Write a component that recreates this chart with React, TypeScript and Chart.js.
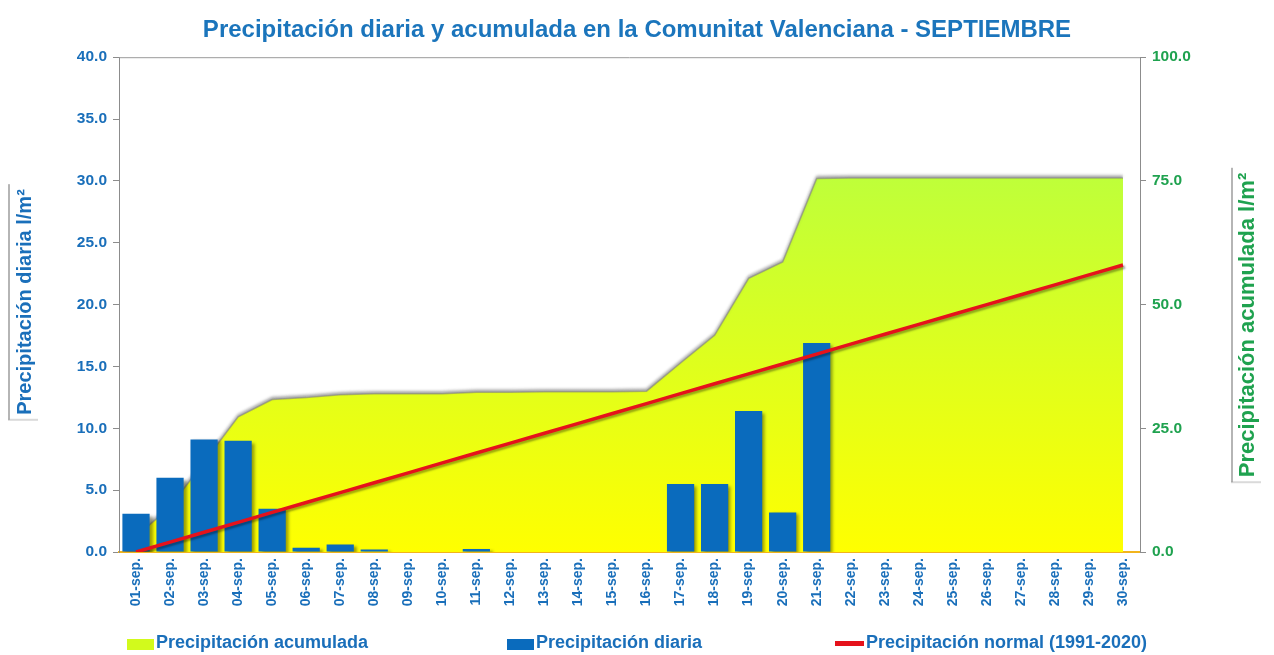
import React, { useEffect, useRef } from 'react';
import { Chart, registerables } from 'chart.js';

const FONT = '"Liberation Sans", Arial, sans-serif';

const TITLE = 'Precipitación diaria y acumulada en la Comunitat Valenciana - SEPTIEMBRE';
const LEFT_TITLE = 'Precipitación diaria l/m²';
const RIGHT_TITLE = 'Precipitación acumulada l/m²';

const days = [
  '01-sep.', '02-sep.', '03-sep.', '04-sep.', '05-sep.', '06-sep.', '07-sep.', '08-sep.', '09-sep.', '10-sep.',
  '11-sep.', '12-sep.', '13-sep.', '14-sep.', '15-sep.', '16-sep.', '17-sep.', '18-sep.', '19-sep.', '20-sep.',
  '21-sep.', '22-sep.', '23-sep.', '24-sep.', '25-sep.', '26-sep.', '27-sep.', '28-sep.', '29-sep.', '30-sep.',
];

const dailyPrecip = [
  3.1, 6.0, 9.1, 9.0, 3.5, 0.35, 0.6, 0.2, 0, 0,
  0.25, 0, 0, 0, 0, 0, 5.5, 5.5, 11.4, 3.2,
  16.9, 0, 0, 0, 0, 0, 0, 0, 0, 0,
];

const accumulatedPrecip = [
  3.1, 9.1, 18.2, 27.3, 30.8, 31.2, 31.8, 32.0, 32.0, 32.0,
  32.3, 32.3, 32.4, 32.4, 32.4, 32.5, 38.2, 43.8, 55.3, 58.6,
  75.5, 75.6, 75.6, 75.6, 75.6, 75.6, 75.6, 75.6, 75.6, 75.6,
];

const normalPrecip = [
  0.0, 2.0, 4.0, 6.0, 8.0, 10.0, 12.0, 14.0, 16.0, 18.0,
  20.0, 22.0, 24.0, 26.0, 28.0, 30.0, 32.0, 34.0, 36.0, 38.0,
  40.0, 42.0, 44.0, 46.0, 48.0, 50.0, 52.0, 54.0, 56.0, 58.0,
];

const leftTicks = [0, 5, 10, 15, 20, 25, 30, 35, 40];
const rightTicks = [0, 25, 50, 75, 100];

const LABEL_ACUM = 'Precipitación acumulada';
const LABEL_DIARIA = 'Precipitación diaria';
const LABEL_NORMAL = 'Precipitación normal (1991-2020)';

const BLUE_TEXT = '#1a6fba';
const GREEN_TEXT = '#1fa24f';
const BAR_BLUE = '#0a6bbd';
const RED = '#e5121b';

const shadows: Record<string, { color: string; x: number; y: number; blur: number }> = {
  [LABEL_ACUM]: { color: 'rgba(90,90,90,0.55)', x: 0, y: -2, blur: 3 },
  [LABEL_DIARIA]: { color: 'rgba(40,40,0,0.45)', x: 3, y: 2, blur: 3 },
  [LABEL_NORMAL]: { color: 'rgba(0,0,0,0.35)', x: 2, y: 2, blur: 2 },
};

const shadowPlugin = {
  id: 'aemetShadow',
  beforeDatasetDraw(chart: any, args: any) {
    const ctx = chart.ctx;
    ctx.save();
    const ds = chart.data.datasets[args.index];
    const s = shadows[ds.label];
    if (s) {
      ctx.shadowColor = s.color;
      ctx.shadowOffsetX = s.x;
      ctx.shadowOffsetY = s.y;
      ctx.shadowBlur = s.blur;
    }
  },
  afterDatasetDraw(chart: any) {
    chart.ctx.restore();
  },
};

function drawVTitle(ctx: CanvasRenderingContext2D, text: string, cx: number, cy: number, color: string, size: number) {
  ctx.save();
  ctx.font = `bold ${size}px ${FONT}`;
  const w = ctx.measureText(text).width;
  // frame shadow (left and bottom)
  ctx.fillStyle = 'rgba(120,120,120,0.55)';
  ctx.fillRect(cx - 17, cy - w / 2 - 5, 2, w + 10);
  ctx.fillStyle = 'rgba(150,150,150,0.35)';
  ctx.fillRect(cx - 17, cy + w / 2 + 4, 30, 2);
  ctx.translate(cx, cy);
  ctx.rotate(-Math.PI / 2);
  ctx.fillStyle = color;
  ctx.textAlign = 'center';
  ctx.textBaseline = 'middle';
  ctx.fillText(text, 0, 0);
  ctx.restore();
}

const decorPlugin = {
  id: 'aemetDecor',
  afterDraw(chart: any) {
    const ctx: CanvasRenderingContext2D = chart.ctx;
    const area = chart.chartArea;
    ctx.save();
    // top frame line
    ctx.strokeStyle = '#9a9a9a';
    ctx.lineWidth = 1;
    ctx.beginPath();
    ctx.moveTo(area.left, area.top + 0.5);
    ctx.lineTo(area.right, area.top + 0.5);
    ctx.stroke();
    ctx.restore();

    drawVTitle(ctx, LEFT_TITLE, 25, 302, BLUE_TEXT, 20);
    drawVTitle(ctx, RIGHT_TITLE, 1248, 325, GREEN_TEXT, 22);

    // legend
    ctx.save();
    ctx.font = `bold 18px ${FONT}`;
    ctx.textBaseline = 'alphabetic';
    ctx.textAlign = 'left';
    const baseY = 648;
    // item 1: accumulated
    ctx.fillStyle = '#d2fa1c';
    ctx.fillRect(127, 639, 27, 11);
    ctx.fillStyle = BLUE_TEXT;
    ctx.fillText(LABEL_ACUM, 156, baseY);
    // item 2: daily
    ctx.fillStyle = BAR_BLUE;
    ctx.fillRect(507, 639, 27, 11);
    ctx.fillStyle = BLUE_TEXT;
    ctx.fillText(LABEL_DIARIA, 536, baseY);
    // item 3: normal
    ctx.fillStyle = RED;
    ctx.fillRect(835, 641, 29, 5);
    ctx.fillStyle = BLUE_TEXT;
    ctx.fillText(LABEL_NORMAL, 866, baseY);
    ctx.restore();
  },
};

Chart.register(shadowPlugin, ...registerables);

export default function App() {
  const ref = useRef<HTMLCanvasElement>(null);

  useEffect(() => {
    document.body.style.margin = '0';
    const canvas = ref.current;
    if (!canvas) return;

    const chart = new Chart(canvas, {
      type: 'bar',
      data: {
        labels: days,
        datasets: [
          {
            type: 'line',
            label: LABEL_NORMAL,
            data: normalPrecip,
            yAxisID: 'y1',
            borderColor: RED,
            borderWidth: 3.5,
            pointRadius: 0,
            tension: 0,
            fill: false,
            order: 1,
          } as any,
          {
            type: 'bar',
            label: LABEL_DIARIA,
            data: dailyPrecip,
            yAxisID: 'y',
            backgroundColor: BAR_BLUE,
            borderWidth: 0,
            barPercentage: 0.8,
            categoryPercentage: 1.0,
            order: 2,
          },
          {
            type: 'line',
            label: LABEL_ACUM,
            data: accumulatedPrecip,
            yAxisID: 'y1',
            borderColor: 'rgba(130,130,130,0.55)',
            borderWidth: 1.5,
            pointRadius: 0,
            tension: 0,
            fill: 'origin',
            backgroundColor: (c: any) => {
              const ch = c.chart;
              const a = ch.chartArea;
              if (!a) return '#e0ff20';
              const g = ch.ctx.createLinearGradient(0, a.top, 0, a.bottom);
              g.addColorStop(0, '#aaff4c');
              g.addColorStop(1, '#ffff00');
              return g;
            },
            order: 3,
          } as any,
        ],
      },
      options: {
        animation: false,
        responsive: true,
        maintainAspectRatio: false,
        layout: { padding: 0 },
        plugins: {
          legend: { display: false },
          tooltip: { enabled: false },
          title: {
            display: true,
            text: TITLE,
            color: '#1b75bc',
            font: { family: FONT, size: 24, weight: 'bold' },
            padding: { top: 15.6, bottom: 12.8 },
          },
        },
        scales: {
          x: {
            type: 'category',
            offset: true,
            grid: { display: false, drawTicks: false },
            border: { display: true, color: '#f2b41c', width: 2 },
            ticks: {
              color: BLUE_TEXT,
              font: { family: FONT, size: 14, weight: 'bold' },
              minRotation: 90,
              maxRotation: 90,
              autoSkip: false,
              padding: 6,
            },
            afterFit: (s: any) => {
              s.height = 103;
            },
          },
          y: {
            position: 'left',
            min: 0,
            max: 40,
            afterBuildTicks: (s: any) => {
              s.ticks = leftTicks.map((v) => ({ value: v }));
            },
            ticks: {
              color: BLUE_TEXT,
              font: { family: FONT, size: 15.5, weight: 'bold' },
              padding: 6,
              callback: (v: any) => Number(v).toFixed(1),
            },
            grid: { drawOnChartArea: false, drawTicks: true, tickLength: 6, color: '#8c8c8c' },
            border: { display: true, color: '#8c8c8c', width: 1 },
            afterFit: (s: any) => {
              s.width = 119;
            },
          },
          y1: {
            position: 'right',
            min: 0,
            max: 100,
            afterBuildTicks: (s: any) => {
              s.ticks = rightTicks.map((v) => ({ value: v }));
            },
            ticks: {
              color: GREEN_TEXT,
              font: { family: FONT, size: 15.5, weight: 'bold' },
              padding: 6,
              callback: (v: any) => Number(v).toFixed(1),
            },
            grid: { drawOnChartArea: false, drawTicks: true, tickLength: 6, color: '#8c8c8c' },
            border: { display: true, color: '#8c8c8c', width: 1 },
            afterFit: (s: any) => {
              s.width = 134;
            },
          },
        },
      } as any,
      plugins: [decorPlugin],
    });

    return () => chart.destroy();
  }, []);

  return (
    <div style={{ width: 1274, height: 655, position: 'relative', background: '#ffffff' }}>
      <canvas ref={ref} />
    </div>
  );
}
